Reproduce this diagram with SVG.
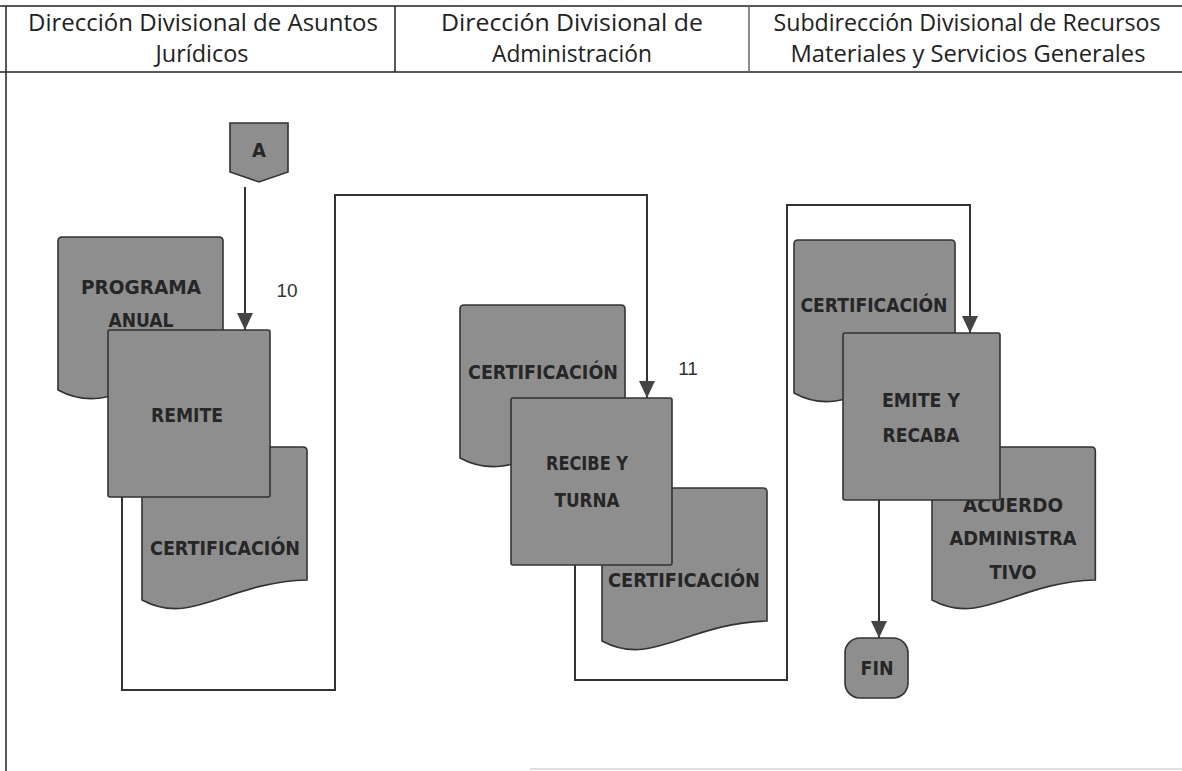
<svg xmlns="http://www.w3.org/2000/svg" width="1182" height="771" viewBox="0 0 1182 771">
<style>
.frame{stroke:#222;stroke-width:1.5;fill:none}
.hdr{font-family:"Open Sans","Liberation Sans",sans-serif;font-size:23px;fill:#222;text-anchor:middle}
.shape{fill:#8e8e8e;stroke:#333;stroke-width:1.6}
.lbl{font-family:"DejaVu Sans Condensed","DejaVu Sans",sans-serif;font-weight:bold;font-size:20px;fill:#262626;text-anchor:middle}
.num{font-family:"Liberation Sans",sans-serif;font-size:19px;fill:#333;text-anchor:middle}
.conn{fill:none;stroke:#333;stroke-width:2}
</style>
<defs>
<marker id="arr" markerUnits="userSpaceOnUse" markerWidth="18" markerHeight="18" viewBox="0 0 18 18" refX="17" refY="9" orient="auto">
<path d="M0,1 L17,9 L0,17 Z" fill="#444"/>
</marker>
<path id="doc" d="M0,4 Q0,0 4,0 L161,0 Q165,0 165,4 L165,133 C85,135 50,180 0,153 Z"/>
</defs>
<rect width="1182" height="771" fill="#fff"/>
<g id="header">
<line class="frame" x1="0" y1="6" x2="1182" y2="6"/>
<line class="frame" x1="0" y1="72" x2="1182" y2="72"/>
<line class="frame" x1="395" y1="6" x2="395" y2="72"/>
<line x1="749" y1="6" x2="749" y2="72" stroke="#666" stroke-width="1.5"/>
<line class="frame" x1="6" y1="6" x2="6" y2="771"/>
<line x1="530" y1="769" x2="1182" y2="769" stroke="#d4d4d4" stroke-width="1.5"/>
<text class="hdr" x="203" y="31" textLength="350" lengthAdjust="spacingAndGlyphs">Dirección Divisional de Asuntos</text>
<text class="hdr" x="202" y="62" textLength="93" lengthAdjust="spacingAndGlyphs">Jurídicos</text>
<text class="hdr" x="572" y="31" textLength="262" lengthAdjust="spacingAndGlyphs">Dirección Divisional de</text>
<text class="hdr" x="572" y="62" textLength="160" lengthAdjust="spacingAndGlyphs">Administración</text>
<text class="hdr" x="967" y="31" textLength="387" lengthAdjust="spacingAndGlyphs">Subdirección Divisional de Recursos</text>
<text class="hdr" x="968" y="62" textLength="355" lengthAdjust="spacingAndGlyphs">Materiales y Servicios Generales</text>
</g>
<g id="connectors">
<path class="conn" d="M245,187 V330" marker-end="url(#arr)"/>
<path class="conn" d="M122,497 V690 H335 V195 H647 V398" marker-end="url(#arr)"/>
<path class="conn" d="M575,565 V680 H787 V205 H970 V333" marker-end="url(#arr)"/>
<path class="conn" d="M879,500 V638" marker-end="url(#arr)"/>
</g>
<g id="connA">
<path class="shape" d="M230,123 H288 V172 L259,182 L230,172 Z"/>
<text class="lbl" x="259" y="157" font-size="16">A</text>
</g>
<g id="doc-programa">
<use href="#doc" class="shape" transform="translate(58,237)"/>
<text class="lbl" x="141" y="294" textLength="120" lengthAdjust="spacingAndGlyphs">PROGRAMA</text>
<text class="lbl" x="141" y="327" textLength="65" lengthAdjust="spacingAndGlyphs">ANUAL</text>
</g>
<g id="doc-cert1">
<use href="#doc" class="shape" transform="translate(142,447)"/>
<text class="lbl" x="225" y="555" textLength="150" lengthAdjust="spacingAndGlyphs">CERTIFICACIÓN</text>
</g>
<g id="remite">
<rect class="shape" x="108" y="330" width="162" height="167" rx="2"/>
<text class="lbl" x="187" y="422" textLength="72" lengthAdjust="spacingAndGlyphs">REMITE</text>
</g>
<text class="num" x="287" y="297">10</text>
<g id="doc-cert2a">
<use href="#doc" class="shape" transform="translate(460,305)"/>
<text class="lbl" x="543" y="379" textLength="150" lengthAdjust="spacingAndGlyphs">CERTIFICACIÓN</text>
</g>
<g id="doc-cert2b">
<use href="#doc" class="shape" transform="translate(602,488)"/>
<text class="lbl" x="684" y="587" textLength="152" lengthAdjust="spacingAndGlyphs">CERTIFICACIÓN</text>
</g>
<g id="recibe">
<rect class="shape" x="511" y="398" width="161" height="167" rx="2"/>
<text class="lbl" x="587" y="470" textLength="82" lengthAdjust="spacingAndGlyphs">RECIBE Y</text>
<text class="lbl" x="587" y="507" textLength="65" lengthAdjust="spacingAndGlyphs">TURNA</text>
</g>
<text class="num" x="688" y="375">11</text>
<g id="doc-cert3">
<use href="#doc" class="shape" transform="translate(794,240) scale(0.976,1)"/>
<text class="lbl" x="874" y="312" textLength="147" lengthAdjust="spacingAndGlyphs">CERTIFICACIÓN</text>
</g>
<g id="doc-acuerdo">
<use href="#doc" class="shape" transform="translate(932,447) scale(0.99,1)"/>
<text class="lbl" x="1013" y="512" textLength="100" lengthAdjust="spacingAndGlyphs">ACUERDO</text>
<text class="lbl" x="1013" y="545" textLength="127" lengthAdjust="spacingAndGlyphs">ADMINISTRA</text>
<text class="lbl" x="1013" y="579" textLength="47" lengthAdjust="spacingAndGlyphs">TIVO</text>
</g>
<g id="emite">
<rect class="shape" x="843" y="333" width="157" height="167" rx="2"/>
<text class="lbl" x="921" y="407" textLength="78" lengthAdjust="spacingAndGlyphs">EMITE Y</text>
<text class="lbl" x="921" y="442" textLength="77" lengthAdjust="spacingAndGlyphs">RECABA</text>
</g>
<g id="fin">
<rect class="shape" x="845" y="638" width="63" height="60" rx="15"/>
<text class="lbl" x="877" y="675" textLength="33" lengthAdjust="spacingAndGlyphs">FIN</text>
</g>
</svg>
